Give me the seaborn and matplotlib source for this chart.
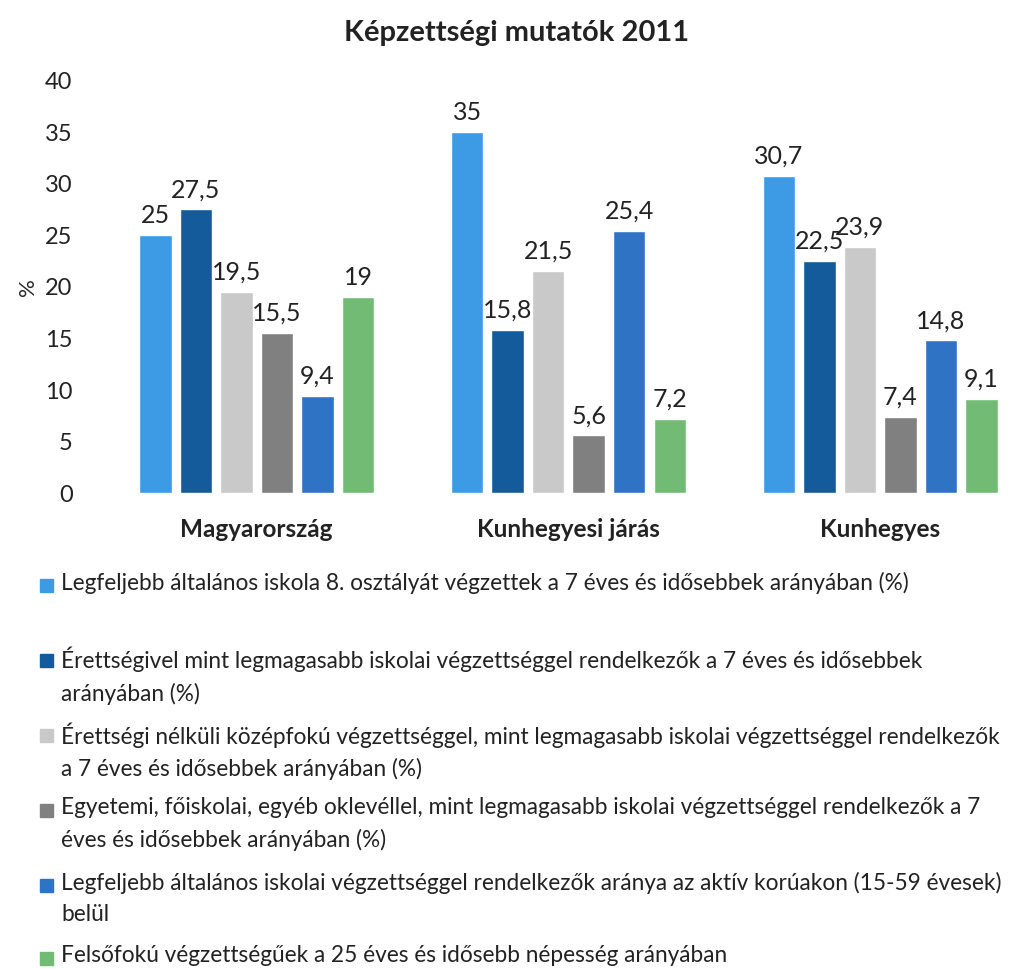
import matplotlib
matplotlib.use("Agg")
import matplotlib.pyplot as plt
from matplotlib.patches import Rectangle
import pandas as pd
import seaborn as sns

# data
groups = ["Magyarország", "Kunhegyesi járás", "Kunhegyes"]
series = [
    "Legfeljebb általános iskola 8. osztályát végzettek a 7 éves és idősebbek arányában (%)",
    "Érettségivel mint legmagasabb iskolai végzettséggel rendelkezők a 7 éves és idősebbek\narányában (%)",
    "Érettségi nélküli középfokú végzettséggel, mint legmagasabb iskolai végzettséggel rendelkezők\na 7 éves és idősebbek arányában (%)",
    "Egyetemi, főiskolai, egyéb oklevéllel, mint legmagasabb iskolai végzettséggel rendelkezők a 7\néves és idősebbek arányában (%)",
    "Legfeljebb általános iskolai végzettséggel rendelkezők aránya az aktív korúakon (15-59 évesek)\nbelül",
    "Felsőfokú végzettségűek a 25 éves és idősebb népesség arányában",
]
magyarorszag = [25, 27.5, 19.5, 15.5, 9.4, 19]
kunhegyesi_jaras = [35, 15.8, 21.5, 5.6, 25.4, 7.2]
kunhegyes = [30.7, 22.5, 23.9, 7.4, 14.8, 9.1]
colors = ["#3d9be6", "#135b9b", "#c9c9c9", "#808080", "#2f74c4", "#72bb74"]

rows = []
for g, vals in zip(groups, [magyarorszag, kunhegyesi_jaras, kunhegyes]):
    for s, v in zip(series, vals):
        rows.append({"group": g, "series": s, "value": v})
df = pd.DataFrame(rows)

sns.set_style("white")
plt.rcParams["font.family"] = ["Lato", "DejaVu Sans"]
plt.rcParams["text.color"] = "#222222"

fig = plt.figure(figsize=(10.1, 9.69), dpi=100)
ax = fig.add_axes([0.109, 0.491, 0.886, 0.426])

sns.barplot(data=df, x="group", y="value", hue="series", hue_order=series,
            palette=colors, saturation=1, gap=0.2, width=0.78, legend=False, ax=ax)

for cont in ax.containers:
    ax.bar_label(cont, labels=[f"{b.get_height():g}".replace(".", ",") for b in cont],
                 padding=6, fontsize=18, color="#222222")

ax.set_ylim(0, 40)
ax.set_xlim(-0.47, 2.4)
ax.set_yticks(range(0, 41, 5))
ax.tick_params(axis="y", labelsize=17, length=0, pad=27, labelcolor="#222222")
ax.tick_params(axis="x", labelsize=17.5, length=0, pad=18, labelcolor="#222222")
for lab in ax.get_xticklabels():
    lab.set_fontweight("bold")
ax.set_xlabel("")
ax.set_ylabel("%", fontsize=16, labelpad=5)
sns.despine(ax=ax, left=True, bottom=True)

fig.text(0.511, 0.966, "Képzettségi mutatók 2011", ha="center", va="center",
         fontsize=21, fontweight="bold")

# legend drawn below the chart, one entry per series
entry_tops = [585, 660, 735, 810, 885, 958]
for s, c, yc in zip(series, colors, entry_tops):
    fig.patches.append(Rectangle((40 / 1010, 1 - (yc + 7) / 969), 13 / 1010, 13 / 969,
                                 transform=fig.transFigure, color=c))
    fig.text(61 / 1010, 1 - (yc - 13) / 969, s, ha="left", va="top",
             fontsize=16.3, linespacing=1.6, color="#222222")

fig.savefig("out.png", dpi=100)
